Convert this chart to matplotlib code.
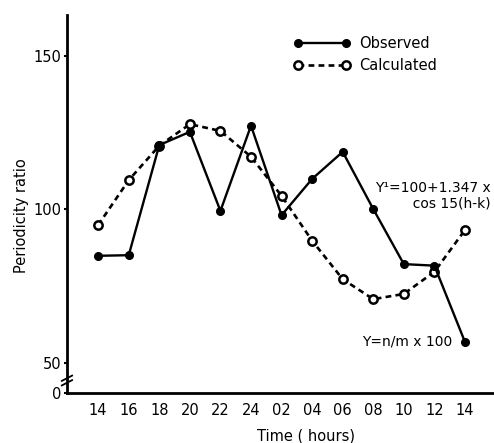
import matplotlib
matplotlib.use("Agg")
import matplotlib.pyplot as plt
from matplotlib.lines import Line2D

# time of day (hours) on the x axis
hours = ["14", "16", "18", "20", "22", "24", "02", "04", "06", "08", "10", "12", "14"]
# observed periodicity ratio Y = n/m x 100
observed = [84.9, 85.1, 120.9, 125.2, 99.5, 127.2, 98.1, 109.9, 118.7, 100.1, 82.2, 81.7, 56.9]
# calculated Y1 = 100 + 1.347 x cos 15(h-k)
calculated = [94.9, 109.5, 120.7, 127.7, 125.5, 117.1, 104.4, 89.8, 77.3, 70.8, 72.5, 79.7, 93.3]

ytick_vals = [40.3, 50, 100, 150]
ytick_labels = ["0", "50", "100", "150"]

plt.rcParams["font.family"] = ["DejaVu Sans"]

fig = plt.figure(figsize=(4.94, 4.43), dpi=100)
ax = fig.add_axes([0.1356, 0.1129, 0.8644, 0.8533])

x = list(range(len(hours)))

# calculated curve (dashed, open circles)
ax.plot(x, calculated, color="black", lw=1.9, ls=(0, (2.2, 1.6)),
        marker="o", ms=6, mfc="white", mec="black", mew=1.8, zorder=3)
# observed (solid, filled dots)
ax.plot(x, observed, color="black", lw=1.7, marker="o", ms=5.5,
        mfc="black", mec="black", zorder=4)

ax.set_xlim(-1.02, 12.95)
ax.set_ylim(40.3, 163.2)

ax.set_xticks(x)
ax.set_xticklabels(hours)
ax.set_yticks(ytick_vals)
ax.set_yticklabels(ytick_labels)
ax.tick_params(axis="x", length=0, pad=7, labelsize=10.5)
ax.tick_params(axis="y", direction="out", length=2.5, width=1.5, pad=1.5, labelsize=10.5)

for side in ["top", "right"]:
    ax.spines[side].set_visible(False)
for side in ["left", "bottom"]:
    ax.spines[side].set_linewidth(2)

# axis break marks on the y axis
for dy in (0.0, 0.012):
    ax.plot([-0.012, 0.012], [0.02 + dy, 0.034 + dy], transform=ax.transAxes,
            color="black", lw=1.3, clip_on=False)

ax.set_ylabel("Periodicity ratio", fontsize=10.5)
ax.yaxis.set_label_coords(-0.09, 0.47)
ax.set_xlabel("Time ( hours)", fontsize=10.5)
ax.xaxis.set_label_coords(0.56, -0.095)

handles = [
    Line2D([], [], color="black", lw=1.7, marker="o", ms=5.5, mfc="black"),
    Line2D([], [], color="black", lw=1.9, ls=(0, (2.2, 1.6)), marker="o", ms=6,
           mfc="white", mew=1.8),
]
ax.legend(handles, ["Observed", "Calculated"], loc="upper left",
          bbox_to_anchor=(0.50, 0.98), frameon=False, numpoints=2,
          handlelength=3.9, handletextpad=0.6, labelspacing=0.5, fontsize=10.5)

ax.text(12.85, 104.5, "Y¹=100+1.347 x\n  cos 15(h-k)", ha="right", va="center",
        fontsize=10, linespacing=1.1)
ax.text(11.6, 57.0, "Y=n/m x 100", ha="right", va="center", fontsize=10)

fig.savefig("out.png", dpi=100)
